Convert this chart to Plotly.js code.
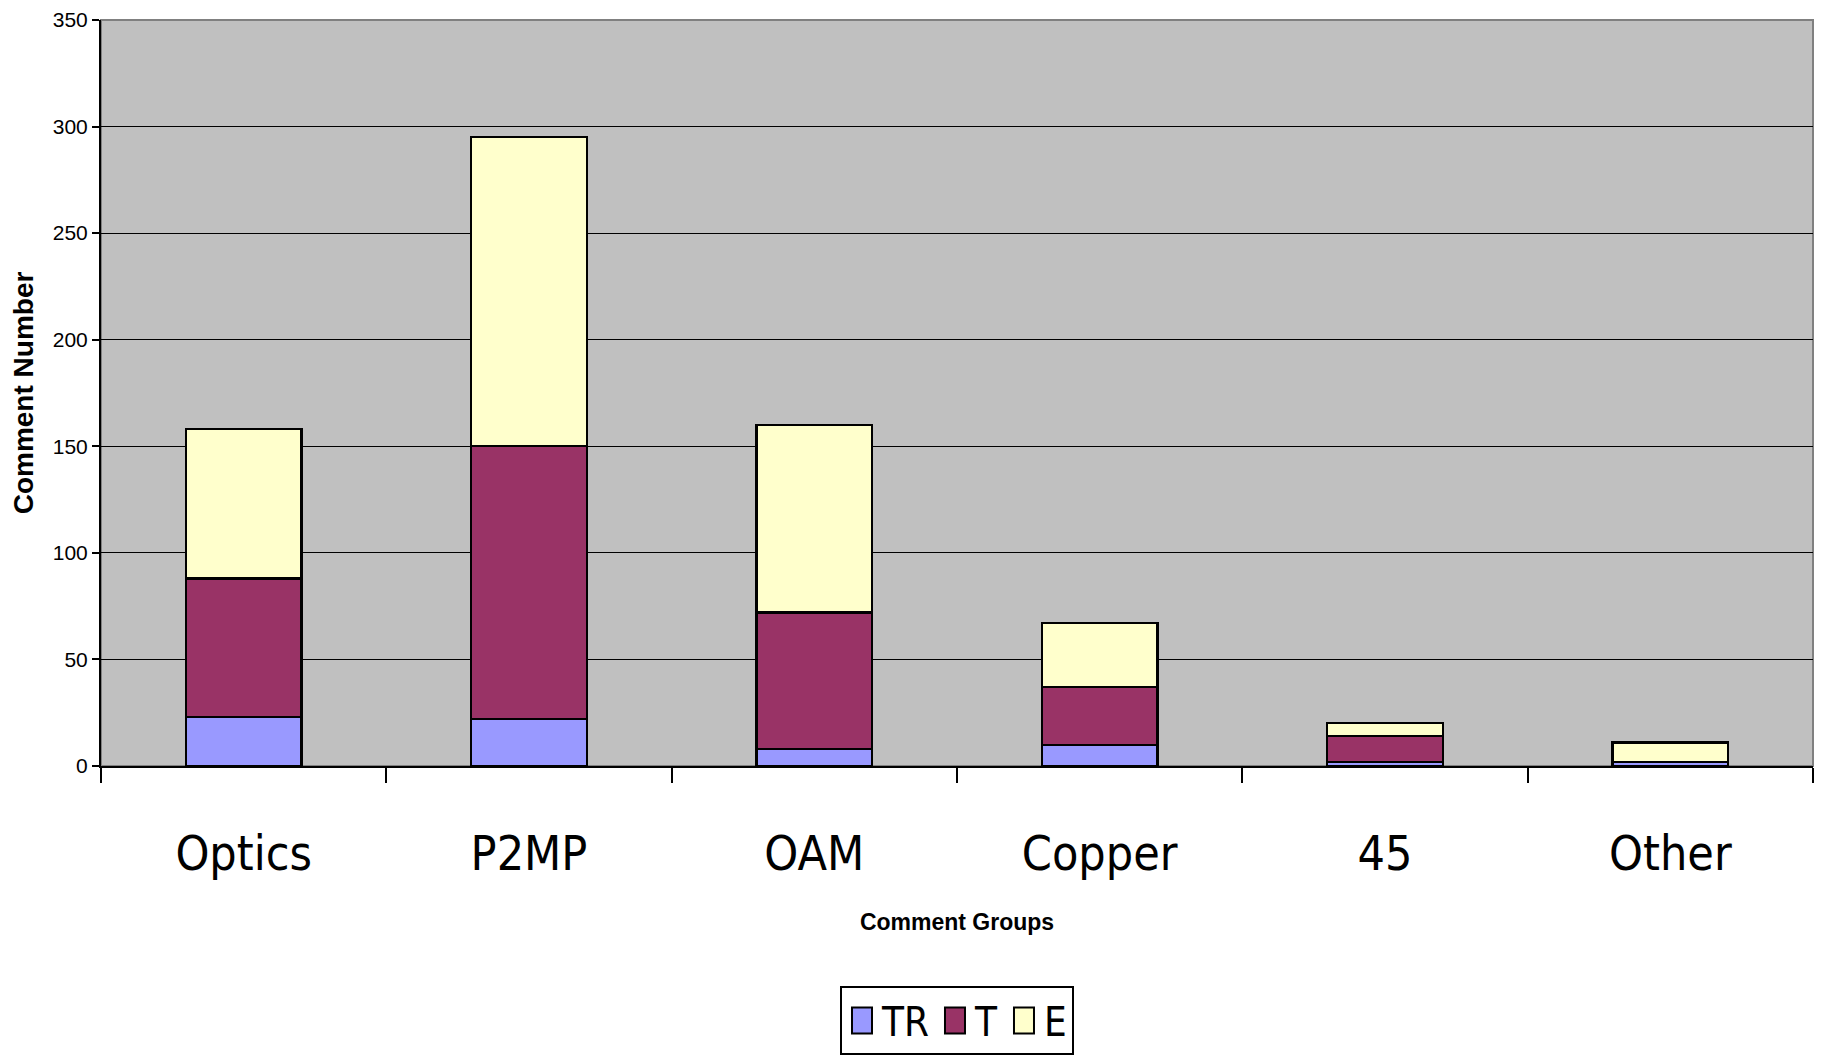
<!DOCTYPE html>
<html>
<head>
<meta charset="utf-8">
<script src="https://cdn.plot.ly/plotly-3.0.1.min.js"></script>
<style>html,body{margin:0;padding:0;background:#fff;}</style>
</head>
<body>
<div id="chart" style="width:1822px;height:1055px;"></div>
<script>
const categories = ['Optics', 'P2MP', 'OAM', 'Copper', '45', 'Other'];
const seriesNames = ['TR', 'T', 'E'];
const trValues = [23, 22, 8, 10, 2, 2];
const tValues = [65, 128, 64, 27, 12, 0];
const eValues = [70, 145, 88, 30, 6, 9];
const yTickVals = [0, 50, 100, 150, 200, 250, 300, 350];

const colors = ['#9999FF', '#993366', '#FFFFCC'];
const narrow = '"Liberation Sans Narrow", "Arial Narrow", "DejaVu Sans Condensed", sans-serif';
const sans = '"Liberation Sans", Arial, sans-serif';

const values = [trValues, tValues, eValues];
const traces = seriesNames.map((name, i) => ({
  type: 'bar',
  name: name,
  x: categories,
  y: values[i],
  marker: {color: colors[i], line: {color: '#000000', width: 2.2}},
  hoverinfo: 'x+y+name'
}));

const layout = {
  width: 1822,
  height: 1055,
  barmode: 'stack',
  bargap: 0.595,
  paper_bgcolor: '#ffffff',
  plot_bgcolor: '#C0C0C0',
  margin: {l: 101, r: 9, t: 20, b: 289},
  showlegend: true,
  legend: {
    orientation: 'h',
    x: 0.5, xanchor: 'center', xref: 'paper',
    y: 0.0, yanchor: 'bottom', yref: 'container',
    bordercolor: '#000000', borderwidth: 2,
    bgcolor: '#ffffff',
    font: {family: narrow, size: 40, color: '#000'},
    traceorder: 'normal'
  },
  xaxis: {
    type: 'category',
    tickson: 'boundaries',
    ticks: 'outside',
    ticklen: 15,
    tickwidth: 1.5,
    tickcolor: '#000',
    showline: true,
    linecolor: '#000',
    linewidth: 2,
    showgrid: false,
    tickfont: {family: narrow, size: 48, color: '#000'},
    ticklabelstandoff: 44,
    title: {text: 'Comment Groups', font: {family: sans, size: 23, color: '#000', weight: 'bold'}, standoff: 34}
  },
  yaxis: {
    range: [0, 350],
    tickvals: yTickVals,
    ticks: 'outside',
    ticklen: 7,
    tickwidth: 1.5,
    tickcolor: '#000',
    showline: true,
    linecolor: '#000',
    linewidth: 2,
    showgrid: true,
    gridcolor: '#000',
    gridwidth: 1.3,
    zeroline: false,
    tickfont: {family: sans, size: 21, color: '#000'},
    title: {text: 'Comment Number', font: {family: sans, size: 28, color: '#000', weight: 'bold'}, standoff: 11}
  },
  shapes: [{
    type: 'rect', xref: 'paper', yref: 'paper', x0: 0, x1: 1, y0: 0, y1: 1,
    line: {color: '#808080', width: 2}, fillcolor: 'rgba(0,0,0,0)', layer: 'below'
  }]
};

function enlargeLegendSymbols() {
  document.querySelectorAll('#chart .legend .legendpoints path').forEach(p => {
    p.setAttribute('d', 'M10,13H-10V-13H10Z');
    p.style.strokeWidth = '2px';
    p.style.stroke = '#000';
  });
}

Plotly.newPlot('chart', traces, layout, {displayModeBar: false}).then(gd => {
  enlargeLegendSymbols();
  gd.on('plotly_afterplot', enlargeLegendSymbols);
});
</script>
</body>
</html>
